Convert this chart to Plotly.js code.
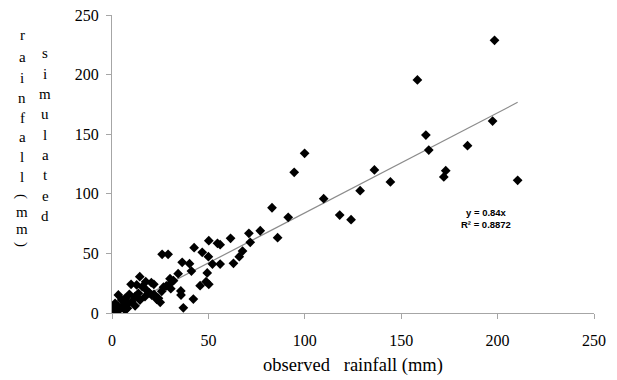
<!DOCTYPE html>
<html>
<head>
<meta charset="utf-8">
<script src="https://cdn.plot.ly/plotly-3.0.1.min.js"></script>
<style>html,body{margin:0;padding:0;background:#fff;}#chart{width:617px;height:380px;}</style>
</head>
<body>
<div id="chart"></div>
<script>
// observed rainfall (mm)
const observed = [
  198.4, 158.4, 99.9, 94.5, 162.8, 164.3, 184.4, 197.4, 173.1, 172.1, 210.4, 136.1, 144.4, 128.7, 109.8, 118.1, 124.0,
  83.0, 91.4, 76.9, 71.0, 85.9, 71.7, 67.7, 66.0, 63.0, 61.5,
  50.2, 54.7, 56.1, 42.6, 46.8, 26.0, 29.1, 50.0, 36.4, 40.2, 52.1, 56.1, 41.2, 49.4, 34.3, 30.1, 31.9, 48.8, 50.2, 45.7,
  26.7, 30.5, 35.7, 35.8, 42.2, 37.0, 25.0,
  14.4, 17.5, 20.4, 21.7, 12.8, 9.9, 15.7, 17.8, 19.4, 21.8, 24.1, 25.8, 28.2, 30.3, 13.7, 11.9, 9.0, 6.8, 3.3, 5.0,
  1.6, 0.3, 0.2, 3.3, 5.9, 8.5, 10.2, 2.4, 0.7, 6.8, 14.5, 17.1, 23.2, 20.6, 4.0, 2.0, 8.0, 1.0, 12.0
];
// simulated rainfall (mm)
const simulated = [
  228.8, 195.5, 134.0, 118.0, 149.3, 136.7, 140.4, 161.0, 119.4, 114.1, 111.3, 120.0, 110.0, 102.6, 95.9, 82.2, 78.3,
  88.3, 80.3, 69.0, 66.9, 63.2, 59.3, 52.0, 47.2, 41.7, 62.7,
  60.7, 58.5, 57.3, 54.8, 50.9, 49.2, 49.2, 47.2, 42.5, 41.4, 41.1, 41.1, 35.2, 33.6, 33.0, 28.8, 27.1, 26.3, 24.1, 22.9,
  21.6, 20.4, 18.5, 15.1, 11.7, 4.4, 9.0,
  30.5, 26.3, 25.4, 24.1, 23.5, 24.1, 22.1, 19.3, 16.8, 15.7, 12.3, 18.2, 22.7, 24.9, 16.5, 13.7, 15.7, 12.3, 15.1, 10.9,
  8.1, 5.3, 2.5, 5.3, 6.7, 8.1, 9.5, 1.1, 0.2, 2.5, 10.9, 13.7, 11.5, 15.1, 3.0, 0.5, 4.0, 1.5, 6.0
];
const slope = 0.84;
const trendX = [0, 210.4];
const trendY = trendX.map(v => slope * v);
const ticks = [0, 50, 100, 150, 200, 250];
// y-axis title written as two vertical columns of letters (outer column first)
const yTitleOuter = ['r','a','i','n','f','a','l','l','(','m','m',')'];
const yTitleInner = ['s','i','m','u','l','a','t','e','d'];

const serif = 'Liberation Serif, Times New Roman, serif';

const traces = [
  {x: trendX, y: trendY, mode: 'lines', type: 'scatter',
   line: {color: '#8c8c8c', width: 1.2}, hoverinfo: 'skip', showlegend: false},
  {x: observed, y: simulated, mode: 'markers', type: 'scatter',
   marker: {symbol: 'diamond', size: 7.5, color: '#000'}, showlegend: false}
];

// layout geometry helpers (pixel -> paper)
const M = {l: 112, r: 23, t: 15, b: 67};
const PW = 617 - M.l - M.r, PH = 380 - M.t - M.b;
const px = p => (p - M.l) / PW;
const py = p => (380 - M.b - p) / PH;

const annotations = [];
const outerY = [35, 57, 78, 98, 118, 137, 157, 177, 196, 212, 229, 244];
yTitleOuter.forEach((c, i) => {
  const paren = (c === '(' || c === ')');
  annotations.push({xref: 'paper', yref: 'paper', x: px(22), y: py(outerY[i]),
    xanchor: 'center', yanchor: 'middle', text: c, textangle: paren ? 90 : 0,
    showarrow: false, font: {family: serif, size: 15, color: '#000'}});
});
const innerY = [53, 73.5, 94, 114, 135, 155, 175, 196, 216];
yTitleInner.forEach((c, i) => {
  annotations.push({xref: 'paper', yref: 'paper', x: px(45), y: py(innerY[i]),
    xanchor: 'center', yanchor: 'middle', text: c,
    showarrow: false, font: {family: serif, size: 15, color: '#000'}});
});
annotations.push({xref: 'x', yref: 'y', x: 193.8, y: 79, xanchor: 'center', yanchor: 'middle',
   text: '<b>y = 0.84x<br>R² = 0.8872</b>', showarrow: false,
   font: {family: 'Liberation Sans Narrow, Liberation Sans, Arial, sans-serif', size: 9.5, color: '#000'}});

const layout = {
  width: 617, height: 380,
  margin: M,
  paper_bgcolor: '#fff', plot_bgcolor: '#fff',
  font: {family: serif, size: 15, color: '#000'},
  xaxis: {
    range: [0, 250], tickvals: ticks, ticktext: ticks.map(String),
    showgrid: false, zeroline: false, showline: true, linecolor: '#a6a6a6', linewidth: 1,
    ticks: 'outside', ticklen: 5, tickcolor: '#a6a6a6', ticklabelstandoff: 8,
    tickfont: {family: serif, size: 16, color: '#000'},
    title: {text: 'observed&nbsp;&nbsp;&nbsp;rainfall (mm)', font: {family: serif, size: 18.5, color: '#000'}, standoff: 9}
  },
  yaxis: {
    range: [0, 250], tickvals: ticks, ticktext: ticks.map(String),
    showgrid: false, zeroline: false, showline: true, linecolor: '#a6a6a6', linewidth: 1,
    ticks: 'outside', ticklen: 5, tickcolor: '#a6a6a6', ticklabelstandoff: 4,
    tickfont: {family: serif, size: 16, color: '#000'}
  },
  annotations: annotations
};

Plotly.newPlot('chart', traces, layout, {staticPlot: true, displayModeBar: false});
</script>
</body>
</html>
